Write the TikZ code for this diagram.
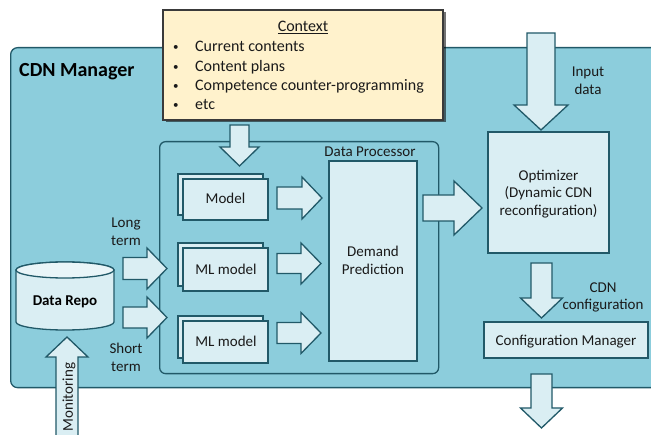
\documentclass[tikz,border=0pt]{standalone}
\usepackage{fontspec}
\setmainfont{Carlito}
\usetikzlibrary{shadows}
\definecolor{cdnfill}{HTML}{8CCDDC}
\definecolor{lightb}{HTML}{DAEEF3}
\definecolor{lighter}{HTML}{E9F5F8}
\definecolor{bord}{HTML}{215968}
\definecolor{ctxfill}{HTML}{FFF2CC}
\definecolor{ctxbord}{HTML}{3A3A3A}
\definecolor{txt}{HTML}{1A1A1A}
% right block arrow: x0, xbase, xtip, ycenter, half shaft, half head
\newcommand{\RArr}[6]{\draw[barrow] (#1,#4-#5) -- (#2,#4-#5) -- (#2,#4-#6) -- (#3,#4) -- (#2,#4+#6) -- (#2,#4+#5) -- (#1,#4+#5) -- cycle;}
% vertical block arrow: xcenter, y0, ybase, ytip, half shaft, half head
\newcommand{\VArr}[6]{\draw[barrow] (#1-#5,#2) -- (#1+#5,#2) -- (#1+#5,#3) -- (#1+#6,#3) -- (#1,#4) -- (#1-#6,#3) -- (#1-#5,#3) -- cycle;}
\newcommand{\mybul}{\makebox[22pt][l]{\raisebox{1pt}{\fontsize{11}{11}\selectfont\textbullet}}}
\begin{document}
\begin{tikzpicture}[x=1pt,y=-1pt,
  lbl/.style={font=\fontsize{15}{18}\selectfont, text=txt, inner sep=0pt, anchor=base},
  box/.style={draw=bord, fill=lightb, line width=1.3pt, inner sep=0pt},
  barrow/.style={draw=bord, fill=lightb, line width=1.3pt, line join=miter},
  container/.style={draw=bord, fill=cdnfill, line width=1.3pt, inner sep=0pt, rounded corners=7pt}]
\fill[white] (0,0) rectangle (651,435);
\clip (0,0) rectangle (651,435);

% outer CDN manager
\node[container, anchor=north west, minimum width=660pt, minimum height=340pt] (cdn) at (10,47) {};
\node[font=\fontsize{20}{24}\selectfont\bfseries, text=black, anchor=base west, inner sep=0pt] (cdnlbl) at (19,77) {CDN Manager};

% context
\node[draw=ctxbord, fill=ctxfill, line width=1.2pt, minimum width=280pt, minimum height=110pt, inner sep=0pt,
      drop shadow={shadow xshift=2.5pt, shadow yshift=-2.5pt, fill=black, opacity=0.55}] (ctx) at (303,65) {};
\node[lbl, font=\fontsize{16}{19}\selectfont] (ctxt) at (303,32) {\underline{Context}};
\node[lbl, anchor=base west, font=\fontsize{16}{19}\selectfont] (c1) at (173,52) {\mybul Current contents};
\node[lbl, anchor=base west, font=\fontsize{16}{19}\selectfont] (c2) at (173,72) {\mybul Content plans};
\node[lbl, anchor=base west, font=\fontsize{16}{19}\selectfont] (c3) at (173,91) {\mybul Competence counter-programming};
\node[lbl, anchor=base west, font=\fontsize{16}{19}\selectfont] (c4) at (173,110) {\mybul etc};

% data processor
\node[container, rounded corners=6pt, anchor=north west, minimum width=279pt, minimum height=232pt] (dp) at (159,141) {};
\node[lbl] (dplbl) at (370,157) {Data Processor};
\node[box, minimum width=88pt, minimum height=200pt] (dem) at (373,261) {};
\node[lbl] (dem1) at (373,257) {Demand};
\node[lbl] (dem2) at (373,275) {Prediction};

% model stacks
\node[box, minimum width=85pt, minimum height=41pt] (m0b) at (220.5,194.5) {};
\node[box, minimum width=85pt, minimum height=41pt] (m0) at (225.5,199.5) {};
\node[lbl] (m0t) at (225.5,204) {Model};
\node[box, minimum width=85pt, minimum height=43pt] (m1b) at (220.5,264.5) {};
\node[box, minimum width=85pt, minimum height=43pt] (m1) at (225.5,269.5) {};
\node[lbl] (m1t) at (226,275) {ML model};
\node[box, minimum width=85pt, minimum height=42pt] (m2b) at (220.5,337) {};
\node[box, minimum width=85pt, minimum height=42pt] (m2) at (225.5,342) {};
\node[lbl] (m2t) at (226,347) {ML model};

% optimizer
\node[box, minimum width=121pt, minimum height=121pt] (opt) at (548.5,192.5) {};
\node[lbl] (opt1) at (548.5,181) {Optimizer};
\node[lbl] (opt2) at (548.5,198) {(Dynamic CDN};
\node[lbl] (opt3) at (548.5,216) {reconfiguration)};

% configuration manager
\node[box, minimum width=164pt, minimum height=36pt] (cfg) at (566,340) {};
\node[lbl] (cfgt) at (566,346) {Configuration Manager};

% data repo cylinder
\draw[box] (16,270) -- (16,322) arc[start angle=180, end angle=0, x radius=49, y radius=8]
  -- (114,270) arc[start angle=0, end angle=-180, x radius=49, y radius=8] -- cycle;
\draw[box, fill=lighter] (65,270) ellipse [x radius=49, y radius=8];
\node[lbl, font=\fontsize{15}{18}\selectfont\bfseries, text=black] (repo) at (65,306) {Data Repo};

% block arrows
\VArr{239.5}{125}{147}{166}{9.5}{19.5}
\RArr{277}{302}{322}{198}{11}{21}
\RArr{277}{301}{321}{263.5}{10}{20.5}
\RArr{277}{301}{321}{333}{10.5}{20.5}
\RArr{123}{147}{167}{268.5}{11}{20.5}
\RArr{123}{147}{167}{317.5}{10.5}{20.5}
\RArr{423}{454}{482}{208}{13}{27}
\VArr{541}{33}{105}{130}{14}{27}
\VArr{541.5}{263}{298}{318}{10.5}{21}
\VArr{541.5}{374}{408}{428}{10.5}{21}
\VArr{67}{445}{357}{337}{11}{21}

% arrow labels
\node[lbl] (lt1) at (126,228) {Long};
\node[lbl] (lt2) at (126,246) {term};
\node[lbl] (st1) at (126,354) {Short};
\node[lbl] (st2) at (126,372) {term};
\node[lbl] (in1) at (588,77) {Input};
\node[lbl] (in2) at (588,95) {data};
\node[lbl] (cc1) at (603,293) {CDN};
\node[lbl] (cc2) at (603,310) {configuration};
\node[lbl, anchor=center, rotate=90] (mon) at (69,397) {Monitoring};
\end{tikzpicture}
\end{document}
